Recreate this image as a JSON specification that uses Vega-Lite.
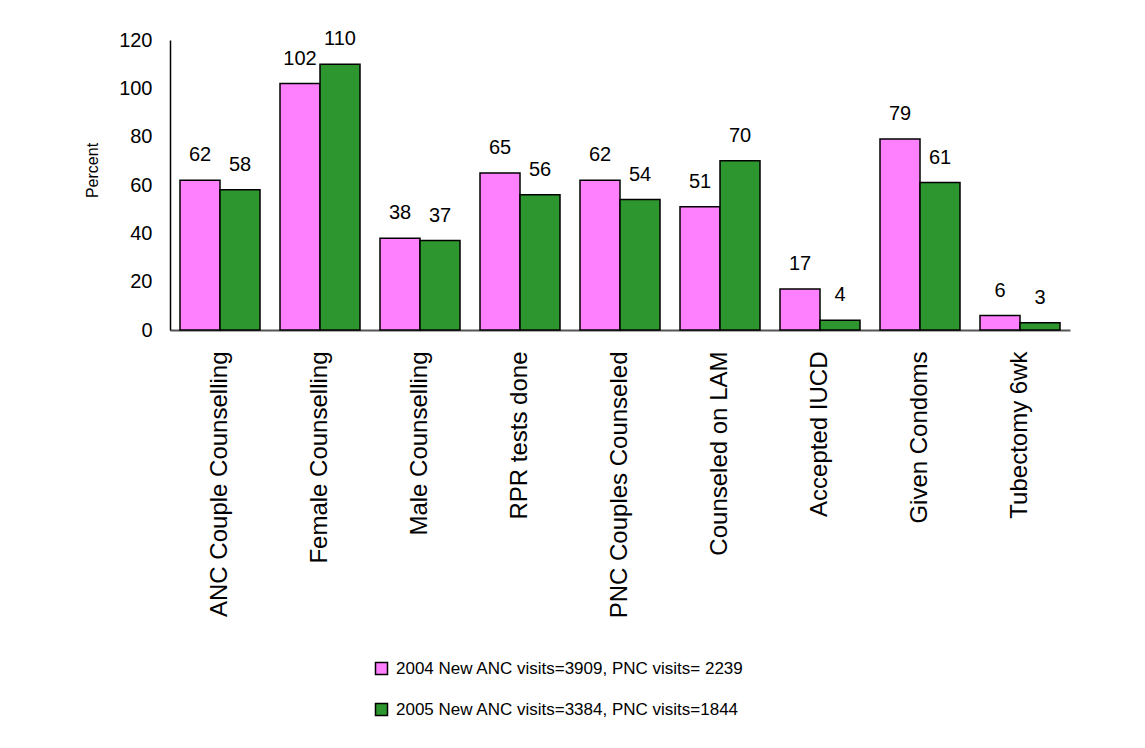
{
  "$schema": "https://vega.github.io/schema/vega-lite/v6.json",
  "width": 900,
  "height": 290,
  "autosize": "none",
  "padding": {"left": 170, "top": 40, "right": 75, "bottom": 418},
  "background": "white",
  "config": {
    "view": {"stroke": null},
    "font": "Liberation Sans",
    "axis": {"labelFont": "Liberation Sans", "titleFont": "Liberation Sans", "labelColor": "black", "titleColor": "black"},
    "legend": {"labelFont": "Liberation Sans"}
  },
  "data": {
    "values": [
      {"category": "ANC Couple Counselling", "series": "2004 New ANC visits=3909, PNC visits= 2239", "value": 62},
      {"category": "ANC Couple Counselling", "series": "2005 New ANC visits=3384, PNC visits=1844", "value": 58},
      {"category": "Female Counselling", "series": "2004 New ANC visits=3909, PNC visits= 2239", "value": 102},
      {"category": "Female Counselling", "series": "2005 New ANC visits=3384, PNC visits=1844", "value": 110},
      {"category": "Male Counselling", "series": "2004 New ANC visits=3909, PNC visits= 2239", "value": 38},
      {"category": "Male Counselling", "series": "2005 New ANC visits=3384, PNC visits=1844", "value": 37},
      {"category": "RPR tests done", "series": "2004 New ANC visits=3909, PNC visits= 2239", "value": 65},
      {"category": "RPR tests done", "series": "2005 New ANC visits=3384, PNC visits=1844", "value": 56},
      {"category": "PNC Couples Counseled", "series": "2004 New ANC visits=3909, PNC visits= 2239", "value": 62},
      {"category": "PNC Couples Counseled", "series": "2005 New ANC visits=3384, PNC visits=1844", "value": 54},
      {"category": "Counseled on LAM", "series": "2004 New ANC visits=3909, PNC visits= 2239", "value": 51},
      {"category": "Counseled on LAM", "series": "2005 New ANC visits=3384, PNC visits=1844", "value": 70},
      {"category": "Accepted IUCD", "series": "2004 New ANC visits=3909, PNC visits= 2239", "value": 17},
      {"category": "Accepted IUCD", "series": "2005 New ANC visits=3384, PNC visits=1844", "value": 4},
      {"category": "Given Condoms", "series": "2004 New ANC visits=3909, PNC visits= 2239", "value": 79},
      {"category": "Given Condoms", "series": "2005 New ANC visits=3384, PNC visits=1844", "value": 61},
      {"category": "Tubectomy 6wk", "series": "2004 New ANC visits=3909, PNC visits= 2239", "value": 6},
      {"category": "Tubectomy 6wk", "series": "2005 New ANC visits=3384, PNC visits=1844", "value": 3}
    ]
  },
  "encoding": {
    "x": {
      "field": "category",
      "type": "nominal",
      "sort": null,
      "scale": {"paddingInner": 0.2, "paddingOuter": 0.1},
      "axis": {
        "title": null,
        "labelAngle": -90,
        "labelFontSize": 24,
        "labelPadding": 21,
        "labelLimit": 400,
        "ticks": false,
        "domainColor": "#555555",
        "domainWidth": 2
      }
    },
    "xOffset": {"field": "series", "type": "nominal", "sort": null, "scale": {"paddingInner": 0, "paddingOuter": 0}},
    "y": {
      "field": "value",
      "type": "quantitative",
      "scale": {"domain": [0, 120], "nice": false},
      "axis": {
        "title": "Percent",
        "titleFontSize": 16,
        "titleFontWeight": "normal",
        "titlePadding": 18,
        "titleY": 130,
        "labelFontSize": 20,
        "labelPadding": 18,
        "values": [0, 20, 40, 60, 80, 100, 120],
        "grid": false,
        "ticks": false,
        "domainColor": "black",
        "domainWidth": 1.5
      }
    }
  },
  "layer": [
    {
      "mark": {"type": "bar", "stroke": "black", "strokeWidth": 1.5, "opacity": 1},
      "encoding": {
        "color": {
          "field": "series",
          "type": "nominal",
          "sort": null,
          "scale": {"range": ["#ff80ff", "#2e962e"]},
          "legend": {
            "title": null,
            "orient": "none",
            "legendX": 203,
            "legendY": 620,
            "direction": "vertical",
            "symbolType": "square",
            "symbolSize": 144,
            "symbolStrokeColor": "black",
            "symbolStrokeWidth": 1.5,
            "symbolOpacity": 1,
            "labelFontSize": 17,
            "labelColor": "black",
            "labelOffset": 6,
            "labelLimit": 600,
            "rowPadding": 22,
            "padding": 0
          }
        }
      }
    },
    {
      "mark": {"type": "text", "fontSize": 20, "baseline": "alphabetic", "dy": -19, "color": "black"},
      "encoding": {"text": {"field": "value", "type": "quantitative"}}
    }
  ]
}
